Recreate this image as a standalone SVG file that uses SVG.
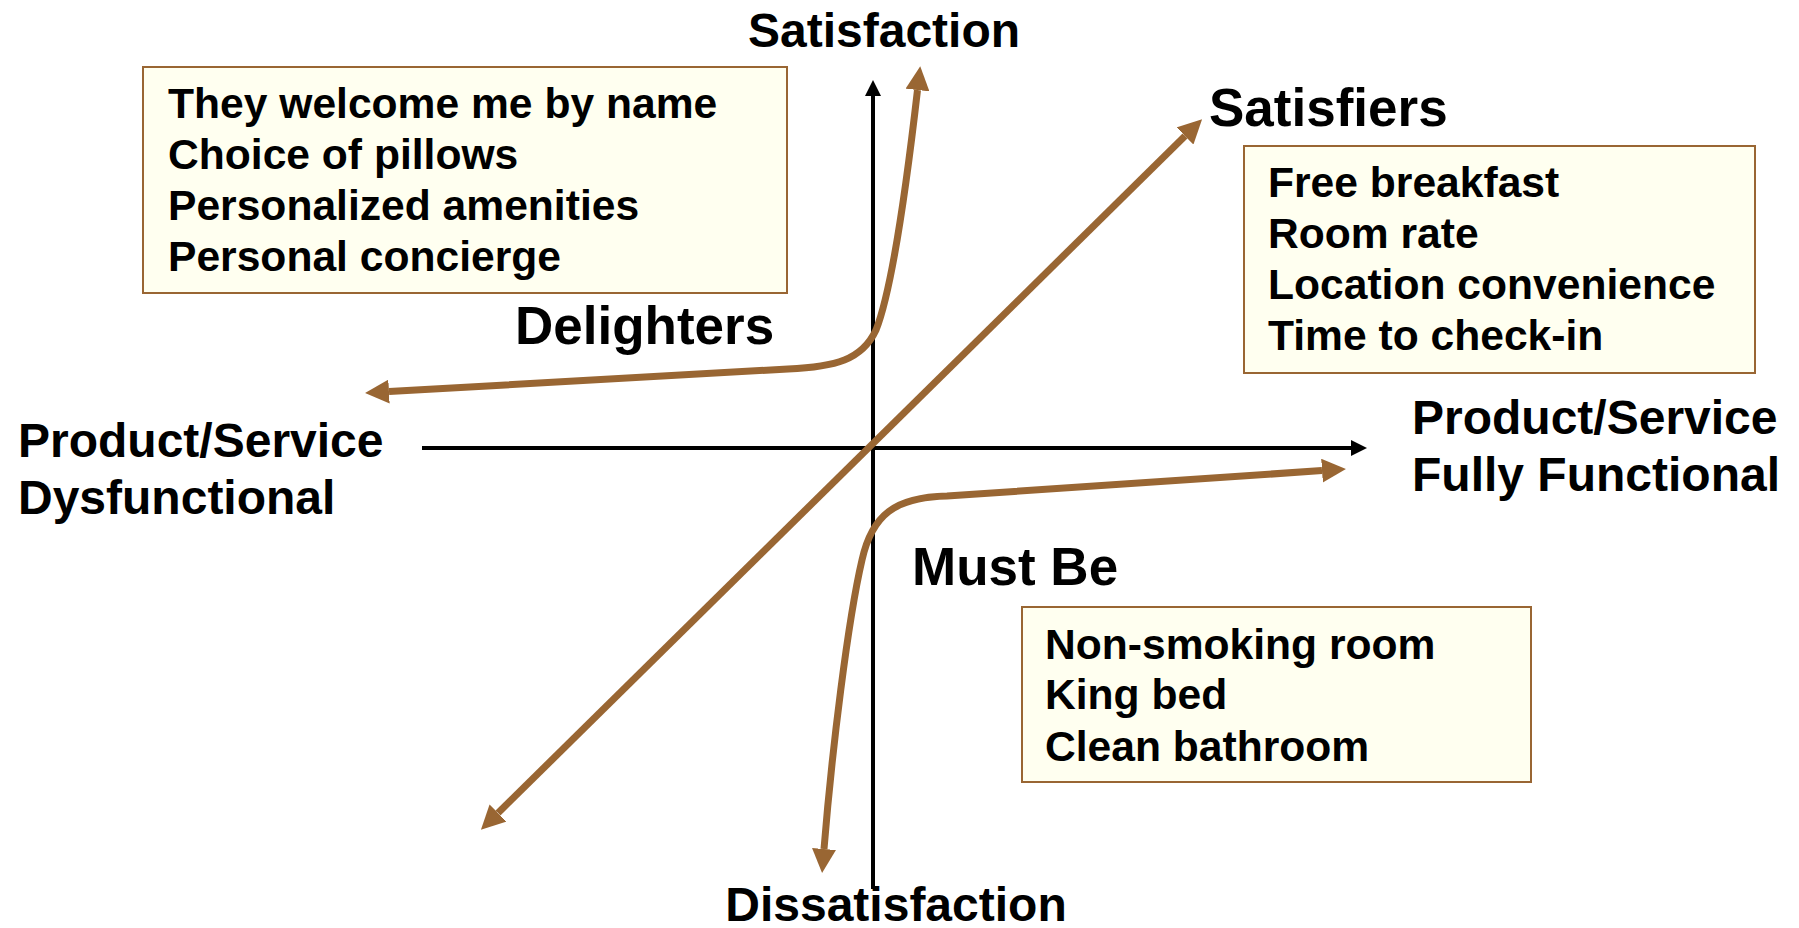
<svg xmlns="http://www.w3.org/2000/svg" width="1799" height="928" viewBox="0 0 1799 928">
<style>
text{font-family:"Liberation Sans",Arial,sans-serif;font-weight:bold;fill:#000}
.lbl{font-size:48px}
.big{font-size:53px}
.item{font-size:42.6px}
.box{fill:#FFFFF0;stroke:#996633;stroke-width:2}
.axis{fill:none;stroke:#000;stroke-width:4}
.curve{fill:none;stroke:#996633;stroke-width:7}
</style>
<defs>
<marker id="bh" markerUnits="userSpaceOnUse" markerWidth="24" markerHeight="24" refX="0" refY="12" orient="auto-start-reverse" viewBox="0 0 24 24">
<path d="M0,0 L24,12 L0,24 z" fill="#996633"/>
</marker>
<marker id="kh" markerUnits="userSpaceOnUse" markerWidth="16" markerHeight="16" refX="0" refY="8" orient="auto" viewBox="0 0 16 16">
<path d="M0,0 L16,8 L0,16 z" fill="#000"/>
</marker>
</defs>
<rect width="1799" height="928" fill="#fff"/>
<g id="connectors">
<path class="axis" d="M873 889 L873 96" marker-end="url(#kh)"/>
<path class="axis" d="M422 448 L1351 448" marker-end="url(#kh)"/>
<path id="delighters-curve" class="curve" d="M389 391.6 L788 369 C835 367 862 360 876 330 C892 290 906 190 917.5 90" marker-start="url(#bh)" marker-end="url(#bh)"/>
<path id="satisfiers-line" class="curve" d="M498 813 L1185 136" marker-start="url(#bh)" marker-end="url(#bh)"/>
<path id="mustbe-curve" class="curve" d="M824 849 C832 750 848 620 862 560 C872 515 895 497 947 496 L1322 470.6" marker-start="url(#bh)" marker-end="url(#bh)"/>
</g>
<g id="satisfaction-label"><text class="lbl" x="884" y="47" text-anchor="middle">Satisfaction</text></g>
<g id="dissatisfaction-label"><text class="lbl" x="896" y="921" text-anchor="middle">Dissatisfaction</text></g>
<g id="dysfunctional-label"><text class="lbl" x="18" y="457">Product/Service</text><text class="lbl" x="18" y="514">Dysfunctional</text></g>
<g id="functional-label"><text class="lbl" x="1412" y="434">Product/Service</text><text class="lbl" x="1412" y="491">Fully Functional</text></g>
<g id="delighters-label"><text class="big" x="515" y="344">Delighters</text></g>
<g id="satisfiers-label"><text class="big" x="1209" y="126">Satisfiers</text></g>
<g id="mustbe-label"><text class="big" x="912" y="585">Must Be</text></g>
<g id="delighters-box">
<rect class="box" x="143" y="67" width="644" height="226"/>
<text class="item" x="168" y="118">They welcome me by name</text>
<text class="item" x="168" y="169">Choice of pillows</text>
<text class="item" x="168" y="220">Personalized amenities</text>
<text class="item" x="168" y="271">Personal concierge</text>
</g>
<g id="satisfiers-box">
<rect class="box" x="1244" y="146" width="511" height="227"/>
<text class="item" x="1268" y="197">Free breakfast</text>
<text class="item" x="1268" y="248">Room rate</text>
<text class="item" x="1268" y="299">Location convenience</text>
<text class="item" x="1268" y="350">Time to check-in</text>
</g>
<g id="mustbe-box">
<rect class="box" x="1022" y="607" width="509" height="175"/>
<text class="item" x="1045" y="659">Non-smoking room</text>
<text class="item" x="1045" y="709">King bed</text>
<text class="item" x="1045" y="761">Clean bathroom</text>
</g>
</svg>
